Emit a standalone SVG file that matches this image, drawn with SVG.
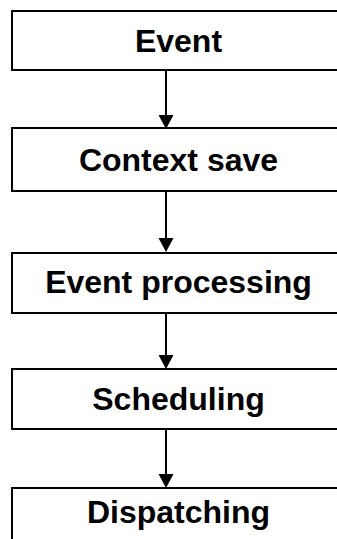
<svg xmlns="http://www.w3.org/2000/svg" width="337" height="539" viewBox="0 0 337 539">
<defs>
<style>
.box{fill:#fff;stroke:#000;stroke-width:2}
.lbl{font-family:"Liberation Sans",Arial,sans-serif;font-weight:bold;font-size:32px;fill:#000;text-anchor:middle}
.conn{stroke:#000;stroke-width:2;fill:none}
.head{fill:#000}
</style>
</defs>
<rect width="337" height="539" fill="#fff"/>
<g id="n1"><rect class="box" x="12" y="11" width="340" height="59"/><text class="lbl" x="178.5" y="52">Event</text></g>
<g id="n2"><rect class="box" x="12" y="128" width="340" height="63"/><text class="lbl" x="178.5" y="171">Context save</text></g>
<g id="n3"><rect class="box" x="12" y="253" width="340" height="60"/><text class="lbl" x="178.5" y="293">Event processing</text></g>
<g id="n4"><rect class="box" x="12" y="369" width="340" height="60"/><text class="lbl" x="178.5" y="410">Scheduling</text></g>
<g id="n5"><rect class="box" x="12" y="488" width="340" height="70"/><text class="lbl" x="178.5" y="523">Dispatching</text></g>
<g id="connectors">
<path class="conn" d="M166,71 V115"/><polygon class="head" points="158.5,115 173.5,115 166,129"/>
<path class="conn" d="M166,192 V238"/><polygon class="head" points="158.5,238 173.5,238 166,252"/>
<path class="conn" d="M166,314 V355"/><polygon class="head" points="158.5,355 173.5,355 166,369"/>
<path class="conn" d="M166,430 V474"/><polygon class="head" points="158.5,474 173.5,474 166,488"/>
</g>
</svg>
